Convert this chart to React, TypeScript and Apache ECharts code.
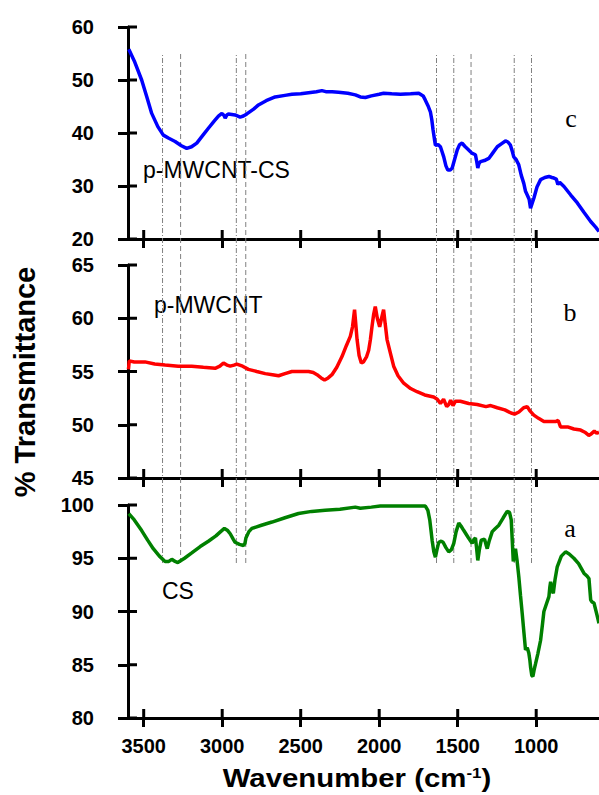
import React, { useEffect, useRef } from 'react';
import * as echarts from 'echarts';

const SANS = '"Liberation Sans", Arial, sans-serif';
const SERIF = '"Liberation Serif", "Times New Roman", serif';

const wnTicks = [3500, 3000, 2500, 2000, 1500, 1000];
const markerLines = [3380, 3265, 2910, 2850, 1635, 1525, 1415, 1140, 1030];
const yTicksC = [20, 30, 40, 50, 60];
const yTicksB = [45, 50, 55, 60, 65];
const yTicksA = [80, 85, 90, 95, 100];

// c: p-MWCNT-CS  [wavenumber, %T]
const seriesC: number[][] = [
  [3595, 55.8], [3560, 53.6], [3513, 50.0], [3480, 46.8], [3449, 43.7], [3410, 41.2], [3375, 39.6],
  [3340, 39.0], [3300, 38.4], [3260, 37.6], [3226, 37.1], [3195, 37.4], [3162, 38.1], [3125, 39.5],
  [3088, 40.9], [3050, 42.3], [3024, 43.2], [3002, 43.7], [2988, 43.3], [2981, 42.8], [2970, 43.4],
  [2960, 43.6], [2918, 43.4], [2886, 43.0], [2865, 43.2], [2843, 43.6], [2800, 44.5], [2769, 45.3],
  [2720, 46.1], [2663, 46.8], [2600, 47.1], [2556, 47.3], [2500, 47.4], [2450, 47.6], [2400, 47.8],
  [2365, 48.0], [2340, 47.8], [2300, 47.8], [2259, 47.7], [2200, 47.5], [2152, 47.2], [2120, 46.8],
  [2088, 46.7], [2050, 47.0], [2000, 47.3], [1972, 47.5], [1920, 47.4], [1865, 47.3], [1800, 47.4],
  [1748, 47.5], [1720, 47.0], [1706, 46.2], [1690, 45.2], [1674, 44.0], [1665, 42.5], [1657, 40.6],
  [1648, 38.8], [1642, 37.7], [1625, 37.8], [1610, 37.4], [1600, 36.5], [1589, 35.5], [1575, 33.8],
  [1563, 33.0], [1548, 33.0], [1535, 33.4], [1520, 35.0], [1503, 36.8], [1488, 37.8], [1472, 38.1],
  [1455, 37.5], [1430, 36.8], [1410, 36.2], [1387, 35.9], [1380, 34.8], [1372, 33.4], [1365, 34.2],
  [1355, 34.6], [1330, 34.8], [1302, 35.2], [1275, 36.3], [1248, 37.4], [1220, 38.0], [1196, 38.5],
  [1180, 38.3], [1164, 37.7], [1150, 36.3], [1143, 35.5], [1128, 35.0], [1111, 34.0], [1095, 32.0],
  [1079, 30.5], [1068, 29.0], [1057, 28.3], [1045, 27.5], [1036, 25.8], [1025, 26.8], [1015, 27.7],
  [995, 29.8], [972, 31.2], [945, 31.6], [919, 31.8], [900, 31.6], [887, 31.5], [872, 31.3],
  [862, 30.3], [851, 30.7], [823, 29.9], [780, 28.3], [738, 26.8], [695, 25.0], [653, 23.3],
  [620, 22.2], [600, 21.4],
];

// b: p-MWCNT
const seriesB: number[][] = [
  [3597, 55.2], [3592, 56.0], [3560, 55.9], [3492, 55.9], [3430, 55.7], [3364, 55.6], [3280, 55.5],
  [3194, 55.5], [3120, 55.4], [3045, 55.3], [3015, 55.5], [2992, 55.8], [2970, 55.6], [2949, 55.5],
  [2925, 55.6], [2907, 55.7], [2870, 55.5], [2833, 55.2], [2780, 55.0], [2726, 54.8], [2680, 54.7],
  [2641, 54.6], [2600, 54.8], [2556, 55.0], [2500, 55.0], [2450, 55.0], [2420, 54.9], [2396, 54.7],
  [2370, 54.4], [2348, 54.2], [2325, 54.4], [2301, 54.7], [2270, 55.4], [2237, 56.4], [2210, 57.4],
  [2184, 58.3], [2170, 59.2], [2162, 60.2], [2157, 60.8], [2150, 59.6], [2141, 58.0], [2128, 56.5],
  [2114, 55.8], [2100, 55.9], [2080, 56.4], [2067, 57.0], [2056, 58.0], [2046, 59.2], [2035, 60.4],
  [2025, 61.1], [2012, 60.0], [1997, 59.2], [1985, 60.0], [1972, 60.8], [1962, 59.5], [1950, 58.0],
  [1930, 56.8], [1908, 55.5], [1880, 54.6], [1844, 53.9], [1800, 53.4], [1759, 53.1], [1710, 52.8],
  [1653, 52.6], [1630, 52.4], [1610, 52.0], [1590, 52.4], [1570, 51.7], [1557, 51.9], [1545, 52.3],
  [1530, 51.8], [1515, 52.2], [1483, 52.2], [1430, 52.0], [1376, 51.9], [1320, 51.7], [1290, 51.8],
  [1248, 51.6], [1200, 51.4], [1160, 51.1], [1138, 51.0], [1110, 51.2], [1080, 51.6], [1057, 51.7],
  [1040, 51.3], [1015, 50.9], [985, 50.6], [951, 50.3], [910, 50.3], [877, 50.3], [860, 50.4],
  [845, 49.8], [800, 49.8], [760, 49.6], [717, 49.5], [690, 49.3], [665, 49.0], [653, 49.1],
  [630, 49.4], [615, 49.2], [600, 49.3],
];

// a: CS
const seriesA: number[][] = [
  [3595, 99.2], [3560, 98.6], [3513, 97.6], [3475, 96.7], [3439, 95.9], [3400, 95.2], [3364, 94.7],
  [3340, 94.7], [3321, 94.9], [3300, 94.7], [3283, 94.6], [3240, 95.0], [3194, 95.5], [3140, 96.1],
  [3088, 96.6], [3040, 97.1], [3010, 97.5], [2986, 97.8], [2965, 97.6], [2949, 97.3], [2930, 96.8],
  [2918, 96.5], [2890, 96.3], [2865, 96.2], [2855, 96.4], [2849, 96.9], [2830, 97.5], [2811, 97.8],
  [2750, 98.1], [2683, 98.4], [2600, 98.8], [2514, 99.2], [2430, 99.4], [2344, 99.5], [2250, 99.6],
  [2152, 99.8], [2120, 99.7], [2050, 99.8], [1993, 99.9], [1900, 99.9], [1800, 99.9], [1706, 99.9],
  [1690, 99.5], [1678, 98.6], [1670, 97.6], [1663, 96.7], [1652, 95.6], [1642, 95.1], [1632, 95.8],
  [1621, 96.5], [1605, 96.6], [1593, 96.5], [1575, 96.0], [1557, 95.6], [1540, 95.8], [1525, 96.4],
  [1510, 97.5], [1493, 98.3], [1478, 98.0], [1461, 97.6], [1435, 97.0], [1408, 96.4], [1395, 96.8],
  [1387, 96.9], [1380, 96.0], [1372, 94.8], [1362, 95.8], [1350, 96.7], [1329, 96.8], [1320, 96.3],
  [1312, 95.9], [1300, 96.6], [1280, 97.5], [1260, 97.8], [1238, 98.1], [1210, 98.8], [1185, 99.4],
  [1170, 99.3], [1159, 98.6], [1152, 96.5], [1146, 94.7], [1138, 95.5], [1132, 95.9], [1122, 94.8],
  [1111, 93.3], [1100, 91.5], [1089, 89.8], [1078, 88.0], [1068, 86.4], [1057, 86.6], [1047, 86.1],
  [1040, 85.4], [1036, 84.8], [1028, 84.0], [1021, 83.9], [1012, 84.6], [1004, 85.1], [990, 86.0],
  [972, 87.3], [960, 88.8], [951, 90.0], [935, 90.7], [919, 91.4], [913, 92.3], [908, 92.8],
  [900, 92.1], [891, 91.7], [880, 93.0], [866, 94.2], [840, 95.2], [813, 95.6], [790, 95.4],
  [760, 95.0], [730, 94.5], [696, 93.6], [675, 93.3], [664, 93.1], [658, 92.0], [653, 91.1],
  [645, 90.9], [632, 90.8], [615, 89.8], [600, 88.9],
];

const panels = [
  { top: 27, height: 212, min: 20, max: 60, interval: 10, yTicks: yTicksC, data: seriesC, color: '#0000ff', name: 'p-MWCNT-CS' },
  { top: 265, height: 213, min: 45, max: 65, interval: 5, yTicks: yTicksB, data: seriesB, color: '#ff0000', name: 'p-MWCNT' },
  { top: 505, height: 213, min: 80, max: 100, interval: 5, yTicks: yTicksA, data: seriesA, color: '#008000', name: 'CS' },
];

const WN_MIN = 600;
const WN_MAX = 3600;
const TICK_IN = 9; // px length of the inward half of each tick

function buildOption() {
  const grid: any[] = [];
  const xAxis: any[] = [];
  const yAxis: any[] = [];
  const series: any[] = [];
  const axisLineStyle = { color: '#000', width: 3 };
  const plain = (v: number) => String(v);

  panels.forEach((p, i) => {
    grid.push({ left: 128, right: 0, top: p.top, height: p.height });
    xAxis.push({
      gridIndex: i, type: 'value', inverse: true, min: WN_MIN, max: WN_MAX, position: 'bottom',
      axisLine: { show: true, onZero: false, lineStyle: axisLineStyle },
      axisTick: { show: true, inside: false, length: 9, lineStyle: axisLineStyle, customValues: wnTicks },
      axisLabel: {
        show: i === 2, customValues: wnTicks, formatter: plain, fontSize: 20, fontWeight: 'bold', color: '#000',
        fontFamily: SANS, margin: 18,
      },
      splitLine: { show: false },
    });
    yAxis.push({
      gridIndex: i, type: 'value', min: p.min, max: p.max, interval: p.interval, position: 'left',
      axisLine: { show: true, onZero: false, lineStyle: axisLineStyle },
      axisTick: { show: true, inside: false, length: 10, lineStyle: axisLineStyle },
      axisLabel: { formatter: plain, fontSize: 20, fontWeight: 'bold', color: '#000', fontFamily: SANS, margin: 34 },
      splitLine: { show: false },
    });
    series.push({
      type: 'line', name: p.name, xAxisIndex: i, yAxisIndex: i, data: p.data,
      showSymbol: false, symbol: 'none', z: 5,
      lineStyle: { color: p.color, width: 3.5 },
    });
  });

  // overlay grid for reference lines spanning all panels
  grid.push({ left: 128, right: 0, top: 53, height: 510 });
  xAxis.push({ gridIndex: 3, type: 'value', inverse: true, min: WN_MIN, max: WN_MAX, show: false });
  yAxis.push({ gridIndex: 3, type: 'value', min: 0, max: 1, show: false });
  const dashTypes: any[] = [[5, 2, 1, 2], [5, 3], [5, 2, 1, 2], [5, 3], [5, 2, 1, 2], [5, 2, 1, 2], [5, 3], [5, 2, 1, 2], [5, 2, 1, 2]];
  markerLines.forEach((w, k) => {
    series.push({
      type: 'line', xAxisIndex: 3, yAxisIndex: 3, data: [[w, 0], [w, 1]],
      showSymbol: false, symbol: 'none', z: 1, silent: true,
      lineStyle: { color: '#808080', width: 1, type: dashTypes[k] },
    });
  });

  return { animation: false, backgroundColor: '#fff', grid, xAxis, yAxis, series };
}

function textGraphics(): any[] {
  return [
    {
      type: 'text', x: 25, y: 382, rotation: Math.PI / 2,
      style: { text: '% Transmittance', fontSize: 29, fontWeight: 'bold', fontFamily: SANS, fill: '#000', align: 'center', verticalAlign: 'middle' },
    },
    {
      type: 'text', x: 357, y: 778, scaleX: 1.13,
      style: {
        text: 'Wavenumber (cm{sup|-1})', fontSize: 26, fontWeight: 'bold', fontFamily: SANS, fill: '#000',
        align: 'center', verticalAlign: 'middle',
        rich: { sup: { fontSize: 15, fontWeight: 'bold', fontFamily: SANS, fill: '#000', verticalAlign: 'top' } },
      },
    },
    { type: 'text', x: 143, y: 170, style: { text: 'p-MWCNT-CS', fontSize: 23, fontFamily: SANS, fill: '#000', align: 'left', verticalAlign: 'middle' } },
    { type: 'text', x: 154, y: 305, style: { text: 'p-MWCNT', fontSize: 23, fontFamily: SANS, fill: '#000', align: 'left', verticalAlign: 'middle' } },
    { type: 'text', x: 162, y: 591, style: { text: 'CS', fontSize: 23, fontFamily: SANS, fill: '#000', align: 'left', verticalAlign: 'middle' } },
    { type: 'text', x: 571, y: 118.5, style: { text: 'c', fontSize: 26, fontFamily: SERIF, fill: '#000', align: 'center', verticalAlign: 'middle' } },
    { type: 'text', x: 570, y: 312, style: { text: 'b', fontSize: 26, fontFamily: SERIF, fill: '#000', align: 'center', verticalAlign: 'middle' } },
    { type: 'text', x: 570, y: 528.5, style: { text: 'a', fontSize: 26, fontFamily: SERIF, fill: '#000', align: 'center', verticalAlign: 'middle' } },
  ];
}

// inward half of the crossing ticks, positioned through the chart's own scales
function innerTickGraphics(chart: echarts.ECharts): any[] {
  const out: any[] = [];
  const style = { stroke: '#000', lineWidth: 3 };
  panels.forEach((p, i) => {
    wnTicks.forEach((w) => {
      const pt = chart.convertToPixel({ gridIndex: i } as any, [w, p.min]) as number[];
      if (!pt) return;
      out.push({ type: 'line', z: 100, shape: { x1: pt[0], y1: pt[1], x2: pt[0], y2: pt[1] - TICK_IN }, style });
    });
    p.yTicks.forEach((v) => {
      const pt = chart.convertToPixel({ gridIndex: i } as any, [WN_MAX, v]) as number[];
      if (!pt) return;
      out.push({ type: 'line', z: 100, shape: { x1: pt[0], y1: pt[1], x2: pt[0] + TICK_IN, y2: pt[1] }, style });
    });
  });
  return out;
}

export default function App() {
  const ref = useRef<HTMLDivElement>(null);
  useEffect(() => {
    const chart = echarts.init(ref.current as HTMLDivElement, null, { renderer: 'svg' });
    chart.setOption(buildOption() as any);
    let ticks: any[] = [];
    try {
      ticks = innerTickGraphics(chart);
    } catch (e) {
      ticks = [];
    }
    chart.setOption({ graphic: [...textGraphics(), ...ticks] } as any);
    return () => chart.dispose();
  }, []);
  return (
    <div
      ref={ref}
      style={{ position: 'fixed', left: 0, top: 0, width: 599, height: 795, background: '#fff' }}
    />
  );
}
